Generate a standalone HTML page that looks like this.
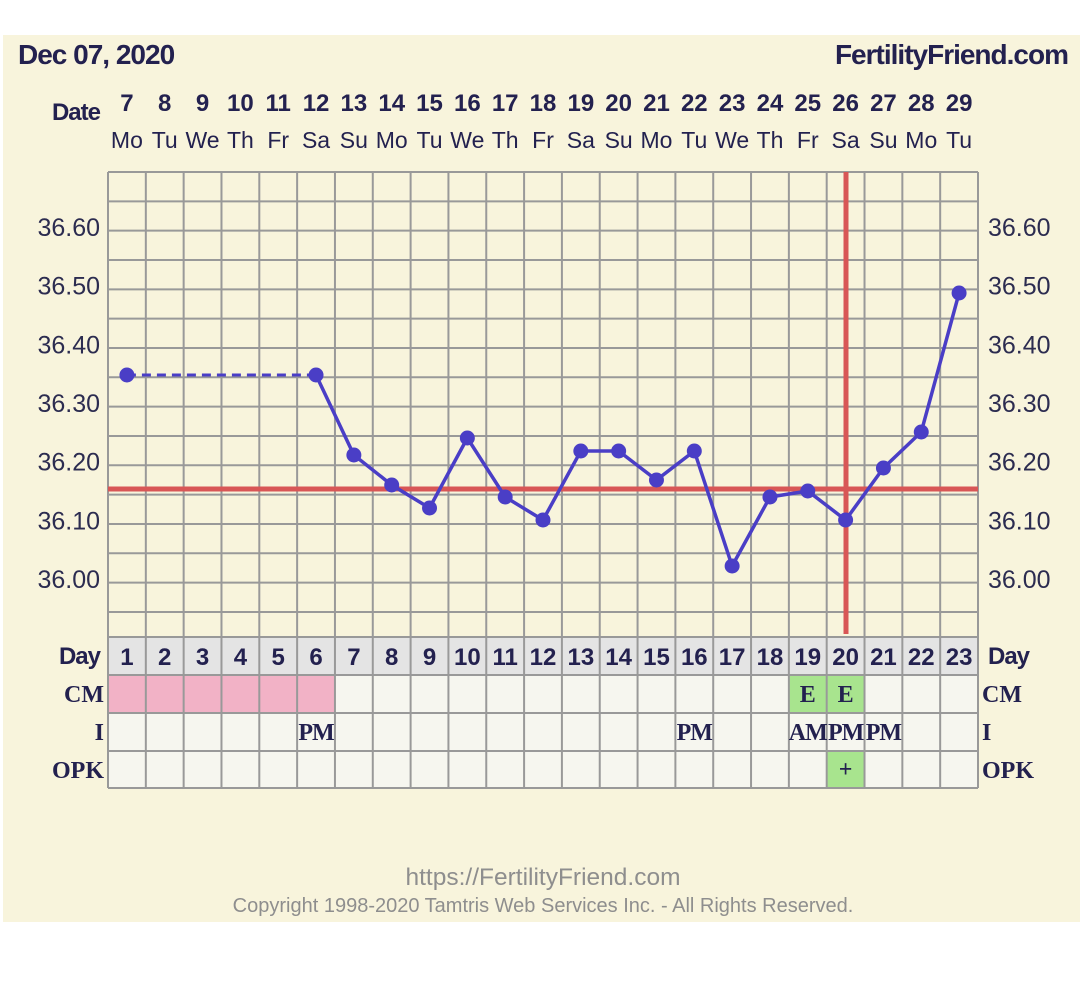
<!DOCTYPE html>
<html><head><meta charset="utf-8"><style>
html,body{margin:0;padding:0;background:#fff;width:1080px;height:988px;overflow:hidden}
svg{display:block}
</style></head><body>
<svg id="s" width="1080" height="988" xmlns="http://www.w3.org/2000/svg" font-family="Liberation Sans, sans-serif">
<rect x="3" y="35" width="1077" height="887" fill="#f8f4dc"/>
<text x="18" y="64" font-size="28" font-weight="bold" fill="#23214f" letter-spacing="-1">Dec 07, 2020</text>
<text x="1068" y="64" font-size="28" font-weight="bold" fill="#23214f" text-anchor="end" letter-spacing="-1">FertilityFriend.com</text>
<text x="100" y="120" font-size="24" font-weight="bold" fill="#23214f" text-anchor="end" letter-spacing="-1">Date</text>
<g id="g"></g>
<text x="543" y="885" font-size="24.5" fill="#8e8e8e" text-anchor="middle">https://FertilityFriend.com</text>
<text x="543" y="912" font-size="20" fill="#8e8e8e" text-anchor="middle">Copyright 1998-2020 Tamtris Web Services Inc. - All Rights Reserved.</text>
</svg>
<script>
var g=document.getElementById('g'),h='';
var L=108,R=978,W=(R-L)/23,T=172,B=637;
var dates=[7,8,9,10,11,12,13,14,15,16,17,18,19,20,21,22,23,24,25,26,27,28,29];
var wd=['Mo','Tu','We','Th','Fr','Sa','Su'];
function cx(i){return L+W*(i+0.5);}
for(var i=0;i<23;i++){
 h+='<text x="'+cx(i)+'" y="111" font-size="24" font-weight="bold" fill="#23214f" text-anchor="middle">'+dates[i]+'</text>';
 h+='<text x="'+cx(i)+'" y="148" font-size="23" fill="#23214f" text-anchor="middle">'+wd[i%7]+'</text>';
}
h+='<rect x="'+L+'" y="637" width="870" height="38" fill="#e4e4e4"/>';
h+='<rect x="'+L+'" y="675" width="870" height="113" fill="#f6f6ef"/>';
h+='<rect x="'+L+'" y="675" width="'+(W*6)+'" height="38" fill="#f2b2c6"/>';
h+='<rect x="'+(L+W*18)+'" y="675" width="'+(W*2)+'" height="38" fill="#a8e48e"/>';
h+='<rect x="'+(L+W*19)+'" y="751" width="'+W+'" height="37" fill="#a8e48e"/>';
for(var y=T;y<=B+0.5;y+=29.33){h+='<line x1="'+L+'" x2="'+R+'" y1="'+y+'" y2="'+y+'" stroke="#999" stroke-width="2"/>';}
[637,675,713,751,788].forEach(function(y){h+='<line x1="'+L+'" x2="'+R+'" y1="'+y+'" y2="'+y+'" stroke="#999" stroke-width="2"/>';});
for(var i=0;i<=23;i++){var x=L+W*i;h+='<line x1="'+x+'" x2="'+x+'" y1="'+T+'" y2="788" stroke="#999" stroke-width="2"/>';}
for(var k=0;k<7;k++){var v=(36.6-k*0.1).toFixed(2),y=228+k*58.67;
 h+='<text x="100" y="'+(y+8)+'" font-size="25" fill="#2c2c50" text-anchor="end">'+v+'</text>';
 h+='<text x="988" y="'+(y+8)+'" font-size="25" fill="#2c2c50">'+v+'</text>';}
for(var i=0;i<23;i++)h+='<text x="'+cx(i)+'" y="665" font-size="24" font-weight="bold" fill="#23214f" text-anchor="middle">'+(i+1)+'</text>';
var sf='font-family="Liberation Serif, serif" font-weight="bold" font-size="24" fill="#23214f"';
h+='<text x="100" y="664" font-size="24" font-weight="bold" fill="#23214f" text-anchor="end" letter-spacing="-1">Day</text>';
h+='<text x="988" y="664" font-size="24" font-weight="bold" fill="#23214f" letter-spacing="-1">Day</text>';
h+='<text x="104" y="702" '+sf+' text-anchor="end">CM</text><text x="982" y="702" '+sf+'>CM</text>';
h+='<text x="104" y="740" '+sf+' text-anchor="end">I</text><text x="982" y="740" '+sf+'>I</text>';
h+='<text x="104" y="778" '+sf+' text-anchor="end">OPK</text><text x="982" y="778" '+sf+'>OPK</text>';
h+='<text x="'+cx(18)+'" y="702" '+sf+' text-anchor="middle">E</text><text x="'+cx(19)+'" y="702" '+sf+' text-anchor="middle">E</text>';
h+='<text x="'+cx(19)+'" y="777" '+sf+' text-anchor="middle">+</text>';
[[5,'PM'],[15,'PM'],[18,'AM'],[19,'PM'],[20,'PM']].forEach(function(p){h+='<text x="'+cx(p[0])+'" y="740" '+sf+' text-anchor="middle" letter-spacing="-1">'+p[1]+'</text>';});
h+='<line x1="'+L+'" x2="'+R+'" y1="489" y2="489" stroke="#d85656" stroke-width="5"/>';
h+='<line x1="846" x2="846" y1="'+T+'" y2="634" stroke="#d85656" stroke-width="5"/>';
var ys={0:375,5:375,6:455,7:485,8:508,9:438,10:497,11:520,12:451,13:451,14:480,15:451,16:566,17:497,18:491,19:520,20:468,21:432,22:293};
h+='<line x1="'+cx(0)+'" y1="375" x2="'+cx(5)+'" y2="375" stroke="#4a3ec6" stroke-width="3" stroke-dasharray="9,6"/>';
var pts=[];for(var i=5;i<23;i++)pts.push(cx(i)+','+ys[i]);
h+='<polyline points="'+pts.join(' ')+'" fill="none" stroke="#4a3ec6" stroke-width="3.5"/>';
for(var i in ys)h+='<circle cx="'+cx(+i)+'" cy="'+ys[i]+'" r="7.5" fill="#4a3ec6"/>';
g.innerHTML=h;
</script>
</body></html>
